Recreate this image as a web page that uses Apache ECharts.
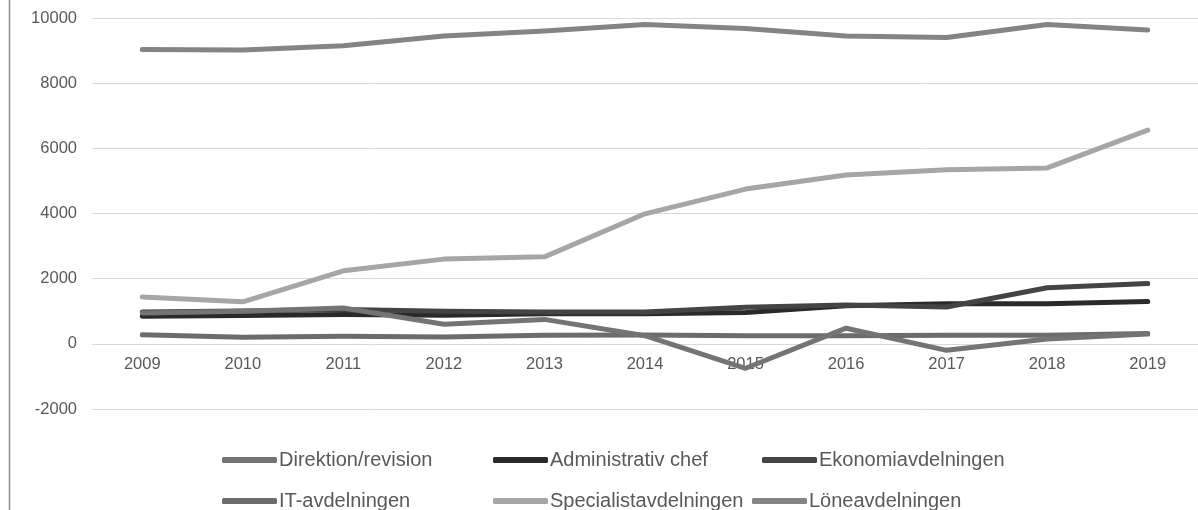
<!DOCTYPE html>
<html>
<head>
<meta charset="utf-8">
<script src="https://cdn.jsdelivr.net/npm/echarts@6/dist/echarts.min.js"></script>
<style>
html,body{margin:0;padding:0;background:#fff;}
#c{width:1198px;height:510px;}
</style>
</head>
<body>
<div id="c"></div>
<script>
const years = ['2009','2010','2011','2012','2013','2014','2015','2016','2017','2018','2019'];
const direktion = [950, 1000, 1100, 600, 750, 250, -750, 480, -200, 150, 300];
const adminChef = [850, 870, 900, 880, 920, 920, 960, 1170, 1230, 1230, 1300];
const ekonomi = [980, 1010, 1050, 1000, 980, 980, 1120, 1190, 1130, 1720, 1850];
const itAvd = [280, 200, 230, 210, 260, 270, 250, 250, 260, 260, 320];
const specialist = [1440, 1290, 2240, 2600, 2670, 3990, 4750, 5180, 5340, 5400, 6560];
const lone = [9030, 9020, 9150, 9450, 9600, 9800, 9680, 9450, 9400, 9800, 9630];
const yTicks = [-2000, 0, 2000, 4000, 6000, 8000, 10000];

const names = ['Direktion/revision','Administrativ chef','Ekonomiavdelningen','IT-avdelningen','Specialistavdelningen','Löneavdelningen'];
const datas = [direktion, adminChef, ekonomi, itAvd, specialist, lone];
const colors = ['#747474','#2a2a2a','#444444','#6c6c6c','#a6a6a6','#848484'];
const z = [5,4,4,3,2,2];

const legendPos = [[222,450],[493,450],[762,450],[222,491],[493,491],[752,491]];

const chart = echarts.init(document.getElementById('c'));
chart.setOption({
  animation:false,
  textStyle:{fontFamily:'Liberation Sans, Arial, sans-serif'},
  grid:{left:92,top:18,width:1108,bottom:101},
  xAxis:{
    type:'category', data:years, boundaryGap:true, position:'bottom', offset:-65,
    axisLine:{show:false,onZero:false},
    axisTick:{show:false},
    axisLabel:{color:'#595959',fontSize:16.5,margin:12}
  },
  yAxis:{
    type:'value', min:yTicks[0], max:yTicks[yTicks.length-1], interval:2000,
    axisLine:{show:false}, axisTick:{show:false},
    axisLabel:{color:'#595959',fontSize:16.5,margin:15,formatter:v=>String(v)},
    splitLine:{lineStyle:{color:'#d9d9d9',width:1}}
  },
  legend: names.map((n,i)=>({
    data:[n], left:legendPos[i][0], top:legendPos[i][1],
    icon:'roundRect', itemWidth:55, itemHeight:6, itemGap:0,
    textStyle:{color:'#595959',fontSize:20,padding:[0,0,0,-3]},
    padding:0
  })),
  series: names.map((n,i)=>({
    name:n, type:'line', data:datas[i], symbol:'none', z:z[i],
    lineStyle:{color:colors[i],width:5,cap:'round',join:'round'},
    itemStyle:{color:colors[i]}
  })),
  graphic:[{type:'line',shape:{x1:9.5,y1:0,x2:9.5,y2:510},style:{stroke:'#8c8c8c',lineWidth:1.5}}]
});
</script>
</body>
</html>
